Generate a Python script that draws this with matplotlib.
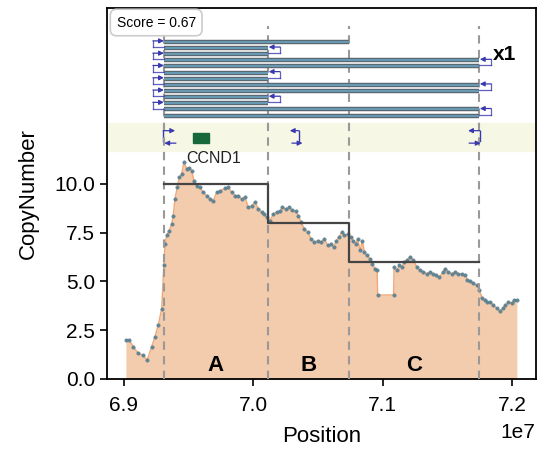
import numpy as np
import matplotlib
matplotlib.use("Agg")
import matplotlib.pyplot as plt
import matplotlib.patheffects as pe
from matplotlib.patches import Rectangle
from matplotlib.ticker import FuncFormatter

plt.rcParams['font.family'] = ['Liberation Sans', 'DejaVu Sans']

# ---------- data (positions in Mb) ----------
pos_mb = [69.015, 69.041, 69.072, 69.111, 69.145, 69.180, 69.214, 69.240, 69.265, 69.292,
          69.309, 69.317, 69.330, 69.350, 69.369, 69.381, 69.394, 69.412, 69.428, 69.446,
          69.464, 69.485, 69.505, 69.524, 69.541, 69.562, 69.588, 69.613, 69.640, 69.665,
          69.691, 69.717, 69.742, 69.781, 69.807, 69.833, 69.858, 69.884, 69.910, 69.936,
          69.961, 69.988, 70.013, 70.039, 70.065, 70.083, 70.104, 70.129, 70.155, 70.181,
          70.206, 70.224, 70.251, 70.276, 70.302, 70.328, 70.348, 70.369, 70.394, 70.421,
          70.446, 70.472, 70.498, 70.524, 70.549, 70.575, 70.601, 70.622, 70.642, 70.663,
          70.684, 70.704, 70.730, 70.756, 70.774, 70.792, 70.807, 70.825, 70.843, 70.858,
          70.877, 70.903, 70.920, 70.941, 70.957, 70.961, 71.084, 71.088, 71.109, 71.129,
          71.148, 71.165, 71.186, 71.212, 71.237, 71.264, 71.289, 71.315, 71.341, 71.367,
          71.387, 71.413, 71.439, 71.465, 71.482, 71.508, 71.534, 71.560, 71.585, 71.612,
          71.637, 71.655, 71.676, 71.701, 71.728, 71.748, 71.766, 71.787, 71.810, 71.831,
          71.856, 71.882, 71.903, 71.929, 71.947, 71.972, 71.998, 72.016, 72.037]
copy_num = [1.99, 1.99, 1.65, 1.31, 1.22, 0.97, 1.65, 2.16, 2.76, 3.60,
            5.82, 6.92, 7.35, 7.60, 7.94, 8.37, 9.22, 9.81, 10.32, 10.49,
            11.09, 10.78, 10.83, 10.66, 10.15, 9.90, 9.81, 9.56, 9.39, 9.22,
            9.13, 9.56, 9.64, 9.76, 9.81, 9.56, 9.39, 9.39, 9.22, 9.30,
            8.79, 8.88, 9.05, 8.71, 8.54, 8.45, 8.28, 8.11, 8.45, 8.54,
            8.62, 8.79, 8.71, 8.79, 8.66, 8.59, 8.37, 8.03, 7.69, 7.52,
            7.18, 7.00, 7.09, 7.00, 7.18, 6.84, 6.92, 6.75, 7.09, 7.26,
            7.52, 7.35, 7.43, 7.26, 7.09, 6.92, 7.18, 6.58, 7.09, 6.50,
            6.33, 6.16, 5.90, 5.65, 5.56, 4.30, 4.30, 5.73, 5.56, 5.82,
            5.73, 5.98, 6.07, 6.27, 6.07, 5.73, 5.56, 5.48, 5.39, 5.48,
            5.39, 5.31, 5.22, 5.48, 5.65, 5.48, 5.39, 5.48, 5.39, 5.39,
            5.31, 5.08, 5.02, 4.91, 4.80, 4.54, 4.17, 4.06, 3.94, 3.94,
            3.78, 3.61, 3.48, 3.61, 3.78, 3.94, 3.89, 4.03, 4.06]

breakpoints_mb = [69.309, 70.114, 70.740, 71.746]
seg_cn = [10, 8, 6]
seg_names = ["A", "B", "C"]

# structure rows: (start bp index, end bp index), top to bottom
rows = [(0, 2), (0, 1), (0, 1), (0, 3), (0, 3), (0, 1), (0, 1),
        (0, 3), (0, 3), (0, 1), (0, 1), (0, 3), (0, 3)]
left_links = [(0, 1), (2, 3), (4, 5), (6, 7), (8, 9), (10, 11)]
right_links = [(1, 2), (3, 4), (5, 6), (7, 8), (9, 10), (11, 12)]

gene_name = "CCND1"
gene_start_mb, gene_end_mb = 69.536, 69.657
score = 0.67
multiplicity = "x1"

# ---------- plot ----------
fig = plt.figure(figsize=(5.41, 4.5), dpi=100)
ax = fig.add_axes([0.198, 0.158, 0.793, 0.824])

x = np.array(pos_mb) * 1e6
y = np.array(copy_num)
bps = np.array(breakpoints_mb) * 1e6

ax.fill_between(x, 0, y, color="#f3cbad", lw=0)
ax.plot(x, y, color="#f0a878", lw=1.0)
ax.plot(x, y, "o", ms=2.4, color="#4f8098", mec="#5f7f8c", mew=0.5, alpha=0.9)

for b in bps:
    ax.plot([b, b], [0, 18.1], ls=(0, (4, 3)), color="#999999", lw=1.5, zorder=3)

# segment copy numbers as steps
ax.step(bps, seg_cn + [seg_cn[-1]], where="post", color="#444444", lw=1.6, zorder=4)

for i, name in enumerate(seg_names):
    ax.text((bps[i] + bps[i + 1]) / 2, 0.7, name, ha="center", va="center",
            fontsize=16, fontweight="bold")

# gene track
ax.axhspan(11.66, 13.1, color="#f7f7e6", zorder=0)
ax.add_patch(Rectangle((gene_start_mb * 1e6, 12.07), (gene_end_mb - gene_start_mb) * 1e6,
                       0.55, color="#17683a", zorder=5))
ax.text(69.485e6, 11.3, gene_name, ha="left", va="center", fontsize=11.5, color="#222222")

arrow_col = "#3a3ab0"
akw = dict(arrowstyle="-|>", color=arrow_col, lw=0.9, mutation_scale=7, shrinkA=0, shrinkB=0)

def bracket(xv, x_top_end, x_bot_end, y_top, y_bot):
    ax.plot([xv, xv], [y_top, y_bot], color=arrow_col, lw=0.9, alpha=0.8, zorder=6)
    ax.annotate("", xy=(x_top_end, y_top), xytext=(xv, y_top), arrowprops=akw, zorder=6)
    ax.plot([xv, x_bot_end], [y_bot, y_bot], color=arrow_col, lw=0.9, alpha=0.8, zorder=6)

# breakpoint orientation icons in the gene track
ic_top, ic_bot = 12.72, 12.08
ax.plot([69.303e6, 69.303e6], [ic_top, ic_bot + 0.12], color=arrow_col, lw=1.0)
ax.annotate("", xy=(69.396e6, ic_top), xytext=(69.303e6, ic_top), arrowprops=akw)
ax.annotate("", xy=(69.312e6, ic_bot), xytext=(69.402e6, ic_bot), arrowprops=akw)

ax.plot([70.353e6, 70.353e6], [ic_top, ic_bot + 0.12], color=arrow_col, lw=1.0)
ax.annotate("", xy=(70.282e6, ic_top), xytext=(70.353e6, ic_top), arrowprops=akw)
ax.annotate("", xy=(70.380e6, ic_bot), xytext=(70.298e6, ic_bot), arrowprops=akw)

ax.plot([71.752e6, 71.752e6], [ic_top, ic_bot + 0.12], color=arrow_col, lw=1.0)
ax.annotate("", xy=(71.660e6, ic_top), xytext=(71.752e6, ic_top), arrowprops=akw)
ax.annotate("", xy=(71.757e6, ic_bot), xytext=(71.668e6, ic_bot), arrowprops=akw)

# structure rows
row_y = [17.27 - 0.315 * i for i in range(len(rows))]
for (s, e), ry in zip(rows, row_y):
    ax.plot([bps[s], bps[e]], [ry, ry], color="#6799b3", lw=1.5, solid_capstyle="butt",
            zorder=5, path_effects=[pe.Stroke(linewidth=3.2, foreground="#5a6670"), pe.Normal()])

lw_off = 0.085e6
for a, b in left_links:
    bracket(bps[0] - lw_off, bps[0], bps[0], row_y[a] + 0.05, row_y[b] + 0.05)
for a, b in right_links:
    xe = bps[rows[a][1]]
    bracket(xe + lw_off + 0.008e6, xe + 0.005e6, xe, row_y[a] + 0.05, row_y[b] + 0.05)

ax.text(71.94e6, 16.6, multiplicity, ha="center", va="center", fontsize=15, fontweight="bold")
ax.text(0.022, 0.980, f"Score = {score}", transform=ax.transAxes, ha="left", va="top",
        fontsize=10, bbox=dict(boxstyle="round,pad=0.45", fc="white", ec="#cccccc", lw=1.2))

ax.set_xlim(68.87e6, 72.186e6)
ax.set_ylim(0, 19.0)
ax.set_xticks([6.9e7, 7.0e7, 7.1e7, 7.2e7])
ax.set_yticks([0, 2.5, 5.0, 7.5, 10.0])
ax.xaxis.set_major_formatter(FuncFormatter(lambda v, p: f"{v / 1e7:.1f}"))
ax.tick_params(labelsize=15, length=5, width=1.2)
ax.tick_params(axis="x", pad=7)
fig.text(0.99, 0.04, "1e7", ha="right", va="center", fontsize=15)
ax.set_xlabel("Position", fontsize=16, labelpad=8)
ax.set_ylabel("CopyNumber", fontsize=16, labelpad=11)
for sp in ax.spines.values():
    sp.set_linewidth(1.3)

fig.savefig("out.png", dpi=100)
